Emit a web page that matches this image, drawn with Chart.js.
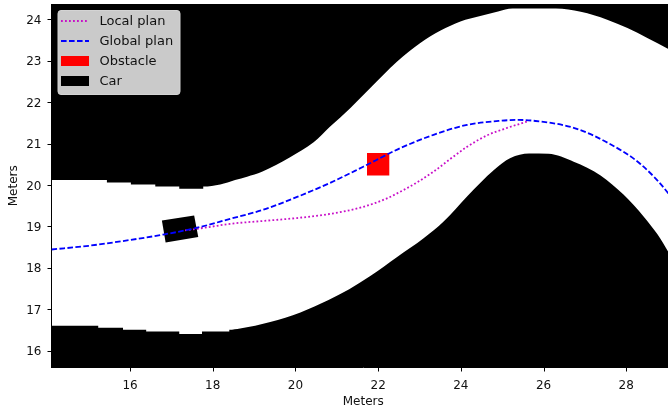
<!DOCTYPE html>
<html><head><meta charset="utf-8">
<style>html,body{margin:0;padding:0;background:#fff;overflow:hidden}#w{position:relative;width:668px;height:411px;overflow:hidden}</style>
<script src="https://cdn.jsdelivr.net/npm/chart.js@4"></script>
</head><body><div id="w"><canvas id="c" width="675" height="411"></canvas></div>
<script>
const xTicks=[16,18,20,22,24,26,28];
const yTicks=[16,17,18,19,20,21,22,23,24];
const legendNames=['Local plan','Global plan','Obstacle','Car'];
const upperX=[14.1,15.44,15.44,16.02,16.02,16.61,16.61,17.19,17.19,17.77,17.77,18.18,18.54,18.83,19.19,19.87,20.44,20.84,21.33,21.81,22.46,23.02,23.51,23.99,24.47,24.9,25.25,26.3,26.9,27.54,28.03,28.51,29.03,29.18];
const upperY=[20.12,20.12,20.06,20.06,20.01,20.01,19.96,19.96,19.91,19.91,19.96,20.01,20.12,20.2,20.32,20.67,21.03,21.41,21.86,22.34,22.98,23.43,23.73,23.95,24.08,24.19,24.26,24.26,24.18,23.99,23.79,23.55,23.28,23.2];
const lowerX=[14.1,15.23,15.23,15.83,15.83,16.39,16.39,17.19,17.19,17.74,17.74,18.4,18.4,18.66,19.39,20.12,20.8,21.3,21.81,22.46,23.1,23.59,24.15,24.8,25.2,25.65,26.12,26.73,27.38,27.94,28.42,28.76,29.03,29.18];
const lowerY=[16.6,16.6,16.55,16.55,16.5,16.5,16.46,16.46,16.4,16.4,16.46,16.46,16.5,16.53,16.69,16.92,17.22,17.48,17.8,18.26,18.71,19.12,19.72,20.36,20.65,20.76,20.75,20.56,20.23,19.76,19.24,18.8,18.36,18.1];
const globalX=[14.1,15,16,16.8,17.6,18.42,19.22,20.04,20.84,21.64,22.54,23.34,24.15,24.96,25.4,25.76,26.73,27.55,28.35,29.03,29.18];
const globalY=[18.44,18.53,18.67,18.8,18.96,19.18,19.4,19.71,20.05,20.44,20.89,21.21,21.45,21.55,21.57,21.55,21.38,21.02,20.5,19.78,19.55];
const localX=[17.33,17.9,18.42,19.22,20.04,20.84,21.64,22.2,22.62,22.94,23.34,23.75,24.15,24.64,25.04,25.6];
const localY=[18.9,18.98,19.06,19.13,19.2,19.3,19.47,19.67,19.88,20.06,20.32,20.63,20.92,21.2,21.35,21.53];
const obstacleX=[21.73,22.27,22.27,21.73,21.73];
const obstacleY=[20.77,20.77,20.23,20.23,20.77];
const carX=[16.77,17.55,17.65,16.86,16.77];
const carY=[19.14,19.26,18.74,18.61,19.14];

const pts=(xs,ys)=>xs.map((x,i)=>({x,y:ys[i]}));
const FONT='"DejaVu Sans"';
const LOCAL='#c810c8';
function sample(draw){const c=document.createElement('canvas');c.width=32;c.height=12;const g=c.getContext('2d');draw(g);return c;}
const lineSample=(col,dash)=>sample(g=>{g.strokeStyle=col;g.lineWidth=1.8;g.setLineDash(dash);g.beginPath();g.moveTo(0,5);g.lineTo(28,5);g.stroke();});
const boxSample=col=>sample(g=>{g.fillStyle=col;g.fillRect(0,0,28,10);});
const samples=[lineSample(LOCAL,[1.8,2.2]),lineSample('#0000ff',[5.6,2.4]),boxSample('#ff0000'),boxSample('#000000')];
const base={showLine:true,pointRadius:0,pointHoverRadius:0,tension:0};
const curve={...base,cubicInterpolationMode:'monotone'};
const insetLegend={id:'insetLegend',
 beforeLayout(chart){const l=chart.legend;if(l._inset)return;l._inset=true;
  const fit=l.fit;l.fit=function(){fit.call(this);this.width=0;};
  l._layers=()=>[{z:10,draw(a){const g=chart.ctx;g.save();g.fillStyle='#cacaca';g.strokeStyle='#d4d4d4';g.lineWidth=1;g.beginPath();g.roundRect(58,10.5,122,84,3);g.fill();g.stroke();g.restore();l.draw(a);}}];},
 afterLayout(chart){const l=chart.legend;l.left=54;l.top=8.5;l.right=180;l.bottom=100;}};
new Chart(document.getElementById('c'),{type:'scatter',
 data:{datasets:[
  {...curve,label:legendNames[0],data:pts(localX,localY),borderColor:LOCAL,borderWidth:1.8,borderDash:[1.8,2.2],fill:false,order:1},
  {...curve,label:legendNames[1],data:pts(globalX,globalY),borderColor:'#0000ff',borderWidth:1.8,borderDash:[5.6,2.4],fill:false,order:0},
  {...base,label:legendNames[2],data:pts(obstacleX,obstacleY),borderWidth:0,backgroundColor:'#ff0000',fill:'shape',order:2},
  {...base,label:legendNames[3],data:pts(carX,carY),borderWidth:0,backgroundColor:'#000000',fill:'shape',order:3},
  {...curve,data:pts(upperX,upperY),borderWidth:0,backgroundColor:'#000000',fill:'end',order:4},
  {...curve,data:pts(lowerX,lowerY),borderWidth:0,backgroundColor:'#000000',fill:'start',order:4}
 ]},
 options:{responsive:false,animation:false,events:[],
  layout:{padding:{top:4,right:0,bottom:0,left:0}},
  plugins:{tooltip:{enabled:false},title:{display:false},
   legend:{position:'left',align:'start',labels:{usePointStyle:true,pointStyleWidth:32,boxHeight:12,padding:7,color:'#111',font:{family:FONT,size:13},
    generateLabels:()=>legendNames.map((t,i)=>({text:t,pointStyle:samples[i],fontColor:'#111',lineWidth:0,hidden:false,datasetIndex:i}))}}},
  scales:{
   x:{type:'linear',min:14.1,max:29.18,grid:{display:false,drawTicks:false},border:{display:true,color:'#000',width:1},
    afterBuildTicks:s=>{s.ticks=xTicks.map(v=>({value:v}));},afterFit:s=>{s.height=43.5;s.paddingLeft=0;s.paddingRight=0;},
    ticks:{color:'#111',font:{family:FONT,size:12},padding:11,maxRotation:0,autoSkip:false},
    title:{display:true,text:'Meters',color:'#111',font:{family:FONT,size:12},padding:{top:1,bottom:2}}},
   y:{type:'linear',min:15.59,max:24.37,grid:{display:false,drawTicks:false},border:{display:true,color:'#000',width:1},
    afterBuildTicks:s=>{s.ticks=yTicks.map(v=>({value:v}));},afterFit:s=>{s.width=51.5;s.paddingTop=0;s.paddingBottom=0;},
    ticks:{color:'#111',font:{family:FONT,size:12},padding:10,labelOffset:1.5,autoSkip:false},
    title:{display:true,text:'Meters',color:'#111',font:{family:FONT,size:12},padding:{top:7,bottom:0}}}
  }},
 plugins:[insetLegend,{id:'tickMarks',afterDraw(chart){const g=chart.ctx,{x,y}=chart.scales;g.save();g.strokeStyle='#000';g.lineWidth=1;g.beginPath();
  xTicks.forEach(v=>{const p=Math.round(x.getPixelForValue(v))+.5;g.moveTo(p,y.bottom);g.lineTo(p,y.bottom+4);});
  yTicks.forEach(v=>{const p=Math.round(y.getPixelForValue(v))+.5;g.moveTo(x.left,p);g.lineTo(x.left-4,p);});
  g.stroke();g.restore();}}]
});
</script></body></html>
